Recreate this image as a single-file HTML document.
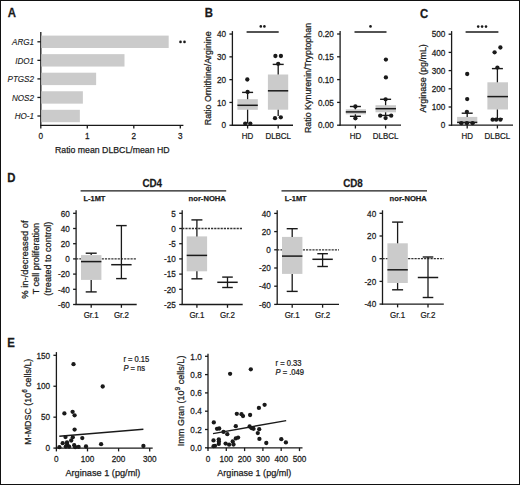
<!DOCTYPE html>
<html><head><meta charset="utf-8"><style>
html,body{margin:0;padding:0;background:#fff;}
body{width:520px;height:485px;overflow:hidden;}
svg{display:block;font-family:"Liberation Sans", sans-serif;}
text{fill:#1a1a1a;stroke:#1a1a1a;stroke-width:0.25px;}
text[font-style=italic]{stroke-width:0.12px;}
</style></head><body>
<svg width="520" height="485" viewBox="0 0 520 485">
<rect x="0" y="0" width="520" height="485" fill="#fff"/>
<text transform="translate(7.80 16.80) scale(0.950 1)" font-size="12" font-weight="bold">A</text>
<text transform="translate(204.80 16.60) scale(0.950 1)" font-size="12" font-weight="bold">B</text>
<text transform="translate(419.90 17.60) scale(0.950 1)" font-size="12" font-weight="bold">C</text>
<text transform="translate(7.30 181.90) scale(0.950 1)" font-size="12" font-weight="bold">D</text>
<text transform="translate(7.30 346.60) scale(0.950 1)" font-size="12" font-weight="bold">E</text>
<line x1="40.8" y1="32" x2="40.8" y2="126" stroke="#1a1a1a" stroke-width="1.3"/>
<line x1="40.2" y1="125.4" x2="183.4" y2="125.4" stroke="#1a1a1a" stroke-width="1.3"/>
<rect x="41.4" y="35.6" width="127.28" height="12.4" fill="#cbcbcb"/>
<line x1="37.4" y1="41.8" x2="40.8" y2="41.8" stroke="#1a1a1a" stroke-width="1.3"/>
<text transform="translate(34.00 45.00) scale(0.920 1)" font-size="8.8" font-style="italic" text-anchor="end">ARG1</text>
<rect x="41.4" y="54.15" width="83.1" height="12.4" fill="#cbcbcb"/>
<line x1="37.4" y1="60.35" x2="40.8" y2="60.35" stroke="#1a1a1a" stroke-width="1.3"/>
<text transform="translate(34.00 63.55) scale(0.920 1)" font-size="8.8" font-style="italic" text-anchor="end">IDO1</text>
<rect x="41.4" y="72.7" width="54.73" height="12.4" fill="#cbcbcb"/>
<line x1="37.4" y1="78.9" x2="40.8" y2="78.9" stroke="#1a1a1a" stroke-width="1.3"/>
<text transform="translate(34.00 82.10) scale(0.920 1)" font-size="8.8" font-style="italic" text-anchor="end">PTGS2</text>
<rect x="41.4" y="91.25" width="41.48" height="12.4" fill="#cbcbcb"/>
<line x1="37.4" y1="97.45" x2="40.8" y2="97.45" stroke="#1a1a1a" stroke-width="1.3"/>
<text transform="translate(34.00 100.65) scale(0.920 1)" font-size="8.8" font-style="italic" text-anchor="end">NOS2</text>
<rect x="41.4" y="109.8" width="38.46" height="12.4" fill="#cbcbcb"/>
<line x1="37.4" y1="116" x2="40.8" y2="116" stroke="#1a1a1a" stroke-width="1.3"/>
<text transform="translate(34.00 119.20) scale(0.920 1)" font-size="8.8" font-style="italic" text-anchor="end">HO-1</text>
<line x1="40.8" y1="125.4" x2="40.8" y2="128.6" stroke="#1a1a1a" stroke-width="1.3"/>
<text transform="translate(40.80 138.80) scale(0.890 1)" font-size="9.2" text-anchor="middle">0</text>
<line x1="87.3" y1="125.4" x2="87.3" y2="128.6" stroke="#1a1a1a" stroke-width="1.3"/>
<text transform="translate(87.30 138.80) scale(0.890 1)" font-size="9.2" text-anchor="middle">1</text>
<line x1="133.8" y1="125.4" x2="133.8" y2="128.6" stroke="#1a1a1a" stroke-width="1.3"/>
<text transform="translate(133.80 138.80) scale(0.890 1)" font-size="9.2" text-anchor="middle">2</text>
<line x1="180.3" y1="125.4" x2="180.3" y2="128.6" stroke="#1a1a1a" stroke-width="1.3"/>
<text transform="translate(180.30 138.80) scale(0.890 1)" font-size="9.2" text-anchor="middle">3</text>
<text transform="translate(55.00 152.60)" font-size="9.8" textLength="114.6" lengthAdjust="spacingAndGlyphs">Ratio mean DLBCL/mean HD</text>
<circle cx="180.5" cy="41.9" r="1.3" fill="#1a1a1a"/>
<circle cx="184.5" cy="41.9" r="1.3" fill="#1a1a1a"/>
<line x1="232.4" y1="31.1" x2="232.4" y2="125.85" stroke="#1a1a1a" stroke-width="1.3"/>
<line x1="229.4" y1="125.25" x2="232.4" y2="125.25" stroke="#1a1a1a" stroke-width="1.3"/>
<text transform="translate(226.10 128.45) scale(0.890 1)" font-size="9.2" text-anchor="end">0</text>
<line x1="229.4" y1="102.45" x2="232.4" y2="102.45" stroke="#1a1a1a" stroke-width="1.3"/>
<text transform="translate(226.10 105.65) scale(0.890 1)" font-size="9.2" text-anchor="end">10</text>
<line x1="229.4" y1="79.65" x2="232.4" y2="79.65" stroke="#1a1a1a" stroke-width="1.3"/>
<text transform="translate(226.10 82.85) scale(0.890 1)" font-size="9.2" text-anchor="end">20</text>
<line x1="229.4" y1="56.85" x2="232.4" y2="56.85" stroke="#1a1a1a" stroke-width="1.3"/>
<text transform="translate(226.10 60.05) scale(0.890 1)" font-size="9.2" text-anchor="end">30</text>
<line x1="229.4" y1="34.05" x2="232.4" y2="34.05" stroke="#1a1a1a" stroke-width="1.3"/>
<text transform="translate(226.10 37.25) scale(0.890 1)" font-size="9.2" text-anchor="end">40</text>
<line x1="231.8" y1="125.25" x2="293" y2="125.25" stroke="#1a1a1a" stroke-width="1.3"/>
<line x1="247.6" y1="125.25" x2="247.6" y2="128.55" stroke="#1a1a1a" stroke-width="1.3"/>
<text transform="translate(247.60 139.20) scale(0.810 1)" font-size="9.8" text-anchor="middle">HD</text>
<line x1="278.2" y1="125.25" x2="278.2" y2="128.55" stroke="#1a1a1a" stroke-width="1.3"/>
<text transform="translate(278.20 139.20) scale(0.810 1)" font-size="9.8" text-anchor="middle">DLBCL</text>
<rect x="237.4" y="99.2" width="20.4" height="10.6" fill="#cbcbcb"/>
<line x1="247.6" y1="92.4" x2="247.6" y2="99.2" stroke="#1a1a1a" stroke-width="1.3"/>
<line x1="242.1" y1="92.4" x2="253.1" y2="92.4" stroke="#1a1a1a" stroke-width="1.4"/>
<line x1="237.4" y1="105.3" x2="257.8" y2="105.3" stroke="#1a1a1a" stroke-width="1.5"/>
<circle cx="247.6" cy="92" r="2.15" fill="#1a1a1a"/>
<circle cx="247.3" cy="79.5" r="2.15" fill="#1a1a1a"/>
<circle cx="245.2" cy="123.6" r="2.15" fill="#1a1a1a"/>
<circle cx="250.3" cy="123.6" r="2.15" fill="#1a1a1a"/>
<line x1="247.6" y1="109.7" x2="247.6" y2="123.5" stroke="#1a1a1a" stroke-width="1.3"/>
<rect x="267.9" y="74.5" width="20.3" height="35.2" fill="#cbcbcb"/>
<line x1="278.2" y1="64.4" x2="278.2" y2="74.5" stroke="#1a1a1a" stroke-width="1.3"/>
<line x1="272.7" y1="64.4" x2="283.7" y2="64.4" stroke="#1a1a1a" stroke-width="1.4"/>
<line x1="267.9" y1="90.8" x2="288.2" y2="90.8" stroke="#1a1a1a" stroke-width="1.5"/>
<circle cx="278.2" cy="63.8" r="2.15" fill="#1a1a1a"/>
<circle cx="275.4" cy="56" r="2.15" fill="#1a1a1a"/>
<circle cx="280.9" cy="56" r="2.15" fill="#1a1a1a"/>
<circle cx="275" cy="118.2" r="2.15" fill="#1a1a1a"/>
<circle cx="280.8" cy="117.3" r="2.15" fill="#1a1a1a"/>
<line x1="278.2" y1="109.7" x2="278.2" y2="116" stroke="#1a1a1a" stroke-width="1.3"/>
<line x1="246.6" y1="32" x2="278.7" y2="32" stroke="#1a1a1a" stroke-width="1.5"/>
<circle cx="260.8" cy="26.4" r="1.3" fill="#1a1a1a"/>
<circle cx="264.4" cy="26.4" r="1.3" fill="#1a1a1a"/>
<text transform="translate(211.00 78.30) rotate(-90)" font-size="9.4" text-anchor="middle" textLength="93.8" lengthAdjust="spacingAndGlyphs">Ratio Ornithine/Arginine</text>
<line x1="340.1" y1="31.1" x2="340.1" y2="125.8" stroke="#1a1a1a" stroke-width="1.3"/>
<line x1="337.1" y1="125.2" x2="340.1" y2="125.2" stroke="#1a1a1a" stroke-width="1.3"/>
<text transform="translate(333.80 128.40) scale(0.890 1)" font-size="9.2" text-anchor="end">0.00</text>
<line x1="337.1" y1="102.4" x2="340.1" y2="102.4" stroke="#1a1a1a" stroke-width="1.3"/>
<text transform="translate(333.80 105.60) scale(0.890 1)" font-size="9.2" text-anchor="end">0.05</text>
<line x1="337.1" y1="79.6" x2="340.1" y2="79.6" stroke="#1a1a1a" stroke-width="1.3"/>
<text transform="translate(333.80 82.80) scale(0.890 1)" font-size="9.2" text-anchor="end">0.10</text>
<line x1="337.1" y1="56.8" x2="340.1" y2="56.8" stroke="#1a1a1a" stroke-width="1.3"/>
<text transform="translate(333.80 60.00) scale(0.890 1)" font-size="9.2" text-anchor="end">0.15</text>
<line x1="337.1" y1="34" x2="340.1" y2="34" stroke="#1a1a1a" stroke-width="1.3"/>
<text transform="translate(333.80 37.20) scale(0.890 1)" font-size="9.2" text-anchor="end">0.20</text>
<line x1="339.5" y1="125.2" x2="401" y2="125.2" stroke="#1a1a1a" stroke-width="1.3"/>
<line x1="355.4" y1="125.2" x2="355.4" y2="128.5" stroke="#1a1a1a" stroke-width="1.3"/>
<text transform="translate(355.40 139.20) scale(0.810 1)" font-size="9.8" text-anchor="middle">HD</text>
<line x1="385.6" y1="125.2" x2="385.6" y2="128.5" stroke="#1a1a1a" stroke-width="1.3"/>
<text transform="translate(385.60 139.20) scale(0.810 1)" font-size="9.8" text-anchor="middle">DLBCL</text>
<rect x="345.8" y="109.3" width="20.2" height="5" fill="#cbcbcb"/>
<line x1="355.4" y1="106.5" x2="355.4" y2="109.3" stroke="#1a1a1a" stroke-width="1.3"/>
<line x1="349.9" y1="106.5" x2="360.9" y2="106.5" stroke="#1a1a1a" stroke-width="1.4"/>
<line x1="355.4" y1="114.3" x2="355.4" y2="116.3" stroke="#1a1a1a" stroke-width="1.3"/>
<line x1="349.9" y1="116.3" x2="360.9" y2="116.3" stroke="#1a1a1a" stroke-width="1.4"/>
<line x1="345.8" y1="111.9" x2="366" y2="111.9" stroke="#1a1a1a" stroke-width="1.5"/>
<circle cx="355.4" cy="106.5" r="2.15" fill="#1a1a1a"/>
<circle cx="355.4" cy="118.3" r="2.15" fill="#1a1a1a"/>
<rect x="375.5" y="105.2" width="20.5" height="7.1" fill="#cbcbcb"/>
<line x1="385.6" y1="99.3" x2="385.6" y2="105.2" stroke="#1a1a1a" stroke-width="1.3"/>
<line x1="380.1" y1="99.3" x2="391.1" y2="99.3" stroke="#1a1a1a" stroke-width="1.4"/>
<line x1="385.6" y1="112.3" x2="385.6" y2="115.4" stroke="#1a1a1a" stroke-width="1.3"/>
<line x1="380.1" y1="115.4" x2="391.1" y2="115.4" stroke="#1a1a1a" stroke-width="1.4"/>
<line x1="375.5" y1="108.7" x2="396" y2="108.7" stroke="#1a1a1a" stroke-width="1.5"/>
<circle cx="385.6" cy="99.3" r="2.15" fill="#1a1a1a"/>
<circle cx="380.2" cy="115.7" r="2.15" fill="#1a1a1a"/>
<circle cx="391.2" cy="115.7" r="2.15" fill="#1a1a1a"/>
<circle cx="385.6" cy="118.1" r="2.15" fill="#1a1a1a"/>
<circle cx="385.9" cy="59.6" r="2.15" fill="#1a1a1a"/>
<circle cx="385.9" cy="77.4" r="2.15" fill="#1a1a1a"/>
<line x1="354.5" y1="32" x2="386.5" y2="32" stroke="#1a1a1a" stroke-width="1.5"/>
<circle cx="370.5" cy="26.4" r="1.3" fill="#1a1a1a"/>
<text transform="translate(311.20 78.00) rotate(-90)" font-size="8.9" text-anchor="middle" textLength="110.2" lengthAdjust="spacingAndGlyphs">Ratio Kynurenin/Tryptophan</text>
<line x1="451.6" y1="31.1" x2="451.6" y2="125.8" stroke="#1a1a1a" stroke-width="1.3"/>
<line x1="448.6" y1="125.2" x2="451.6" y2="125.2" stroke="#1a1a1a" stroke-width="1.3"/>
<text transform="translate(445.30 128.40) scale(0.890 1)" font-size="9.2" text-anchor="end">0</text>
<line x1="448.6" y1="107" x2="451.6" y2="107" stroke="#1a1a1a" stroke-width="1.3"/>
<text transform="translate(445.30 110.20) scale(0.890 1)" font-size="9.2" text-anchor="end">100</text>
<line x1="448.6" y1="88.8" x2="451.6" y2="88.8" stroke="#1a1a1a" stroke-width="1.3"/>
<text transform="translate(445.30 92.00) scale(0.890 1)" font-size="9.2" text-anchor="end">200</text>
<line x1="448.6" y1="70.6" x2="451.6" y2="70.6" stroke="#1a1a1a" stroke-width="1.3"/>
<text transform="translate(445.30 73.80) scale(0.890 1)" font-size="9.2" text-anchor="end">300</text>
<line x1="448.6" y1="52.4" x2="451.6" y2="52.4" stroke="#1a1a1a" stroke-width="1.3"/>
<text transform="translate(445.30 55.60) scale(0.890 1)" font-size="9.2" text-anchor="end">400</text>
<line x1="448.6" y1="34.2" x2="451.6" y2="34.2" stroke="#1a1a1a" stroke-width="1.3"/>
<text transform="translate(445.30 37.40) scale(0.890 1)" font-size="9.2" text-anchor="end">500</text>
<line x1="451" y1="125.2" x2="513" y2="125.2" stroke="#1a1a1a" stroke-width="1.3"/>
<line x1="467.2" y1="125.2" x2="467.2" y2="128.5" stroke="#1a1a1a" stroke-width="1.3"/>
<text transform="translate(467.20 139.20) scale(0.810 1)" font-size="9.8" text-anchor="middle">HD</text>
<line x1="497.4" y1="125.2" x2="497.4" y2="128.5" stroke="#1a1a1a" stroke-width="1.3"/>
<text transform="translate(497.40 139.20) scale(0.810 1)" font-size="9.8" text-anchor="middle">DLBCL</text>
<rect x="457.1" y="116.9" width="20.2" height="5.5" fill="#cbcbcb"/>
<line x1="467.2" y1="113.2" x2="467.2" y2="116.9" stroke="#1a1a1a" stroke-width="1.3"/>
<line x1="461.7" y1="113.2" x2="472.7" y2="113.2" stroke="#1a1a1a" stroke-width="1.4"/>
<line x1="457.1" y1="122.4" x2="477.3" y2="122.4" stroke="#1a1a1a" stroke-width="1.5"/>
<circle cx="466.9" cy="111.8" r="2.15" fill="#1a1a1a"/>
<circle cx="467.2" cy="74" r="2.15" fill="#1a1a1a"/>
<circle cx="467.2" cy="99.1" r="2.15" fill="#1a1a1a"/>
<circle cx="461.3" cy="123.2" r="2.15" fill="#1a1a1a"/>
<circle cx="466.9" cy="123.2" r="2.15" fill="#1a1a1a"/>
<circle cx="472.6" cy="123.2" r="2.15" fill="#1a1a1a"/>
<rect x="487.4" y="82.3" width="20.6" height="27.2" fill="#cbcbcb"/>
<line x1="497.4" y1="68.6" x2="497.4" y2="82.3" stroke="#1a1a1a" stroke-width="1.3"/>
<line x1="491.9" y1="68.6" x2="502.9" y2="68.6" stroke="#1a1a1a" stroke-width="1.4"/>
<line x1="497.4" y1="109.5" x2="497.4" y2="118.8" stroke="#1a1a1a" stroke-width="1.3"/>
<line x1="491.9" y1="118.8" x2="502.9" y2="118.8" stroke="#1a1a1a" stroke-width="1.4"/>
<line x1="487.4" y1="96.6" x2="508" y2="96.6" stroke="#1a1a1a" stroke-width="1.5"/>
<circle cx="497.4" cy="67.6" r="2.15" fill="#1a1a1a"/>
<circle cx="494.6" cy="52.3" r="2.15" fill="#1a1a1a"/>
<circle cx="500.4" cy="47.5" r="2.15" fill="#1a1a1a"/>
<circle cx="492.6" cy="119.7" r="2.15" fill="#1a1a1a"/>
<circle cx="496.2" cy="119.7" r="2.15" fill="#1a1a1a"/>
<circle cx="500.4" cy="119.7" r="2.15" fill="#1a1a1a"/>
<line x1="465.6" y1="32.1" x2="498.4" y2="32.1" stroke="#1a1a1a" stroke-width="1.5"/>
<circle cx="478.2" cy="26.6" r="1.3" fill="#1a1a1a"/>
<circle cx="482.1" cy="26.6" r="1.3" fill="#1a1a1a"/>
<circle cx="486" cy="26.6" r="1.3" fill="#1a1a1a"/>
<text transform="translate(426.20 78.40) rotate(-90)" font-size="9.2" text-anchor="middle" textLength="68.4" lengthAdjust="spacingAndGlyphs">Arginase (pg/mL)</text>
<line x1="80.6" y1="190.8" x2="226.2" y2="190.8" stroke="#1a1a1a" stroke-width="1.3"/>
<line x1="281.5" y1="190.8" x2="427" y2="190.8" stroke="#1a1a1a" stroke-width="1.3"/>
<text transform="translate(152.20 187.20) scale(0.870 1)" font-size="11.3" font-weight="bold" text-anchor="middle">CD4</text>
<text transform="translate(353.00 187.20) scale(0.870 1)" font-size="11.3" font-weight="bold" text-anchor="middle">CD8</text>
<text transform="translate(83.60 200.50)" font-size="7.9" font-weight="bold" textLength="21.8" lengthAdjust="spacingAndGlyphs">L-1MT</text>
<text transform="translate(225.80 200.50)" font-size="7.9" font-weight="bold" text-anchor="end" textLength="37.2" lengthAdjust="spacingAndGlyphs">nor-NOHA</text>
<text transform="translate(284.80 200.50)" font-size="7.9" font-weight="bold" textLength="21.8" lengthAdjust="spacingAndGlyphs">L-1MT</text>
<text transform="translate(426.80 200.50)" font-size="7.9" font-weight="bold" text-anchor="end" textLength="37.2" lengthAdjust="spacingAndGlyphs">nor-NOHA</text>
<line x1="76.1" y1="210.3" x2="76.1" y2="305.1" stroke="#1a1a1a" stroke-width="1.3"/>
<line x1="73.1" y1="213.3" x2="76.1" y2="213.3" stroke="#1a1a1a" stroke-width="1.3"/>
<text transform="translate(69.80 216.50) scale(0.890 1)" font-size="9.2" text-anchor="end">60</text>
<line x1="73.1" y1="228.5" x2="76.1" y2="228.5" stroke="#1a1a1a" stroke-width="1.3"/>
<text transform="translate(69.80 231.70) scale(0.890 1)" font-size="9.2" text-anchor="end">40</text>
<line x1="73.1" y1="243.7" x2="76.1" y2="243.7" stroke="#1a1a1a" stroke-width="1.3"/>
<text transform="translate(69.80 246.90) scale(0.890 1)" font-size="9.2" text-anchor="end">20</text>
<line x1="73.1" y1="258.9" x2="76.1" y2="258.9" stroke="#1a1a1a" stroke-width="1.3"/>
<text transform="translate(69.80 262.10) scale(0.890 1)" font-size="9.2" text-anchor="end">0</text>
<line x1="73.1" y1="274.1" x2="76.1" y2="274.1" stroke="#1a1a1a" stroke-width="1.3"/>
<text transform="translate(69.80 277.30) scale(0.890 1)" font-size="9.2" text-anchor="end">-20</text>
<line x1="73.1" y1="289.3" x2="76.1" y2="289.3" stroke="#1a1a1a" stroke-width="1.3"/>
<text transform="translate(69.80 292.50) scale(0.890 1)" font-size="9.2" text-anchor="end">-40</text>
<line x1="73.1" y1="304.5" x2="76.1" y2="304.5" stroke="#1a1a1a" stroke-width="1.3"/>
<text transform="translate(69.80 307.70) scale(0.890 1)" font-size="9.2" text-anchor="end">-60</text>
<line x1="75.5" y1="304.5" x2="136.7" y2="304.5" stroke="#1a1a1a" stroke-width="1.3"/>
<line x1="91.2" y1="304.5" x2="91.2" y2="307.8" stroke="#1a1a1a" stroke-width="1.3"/>
<text transform="translate(91.20 318.40) scale(0.810 1)" font-size="9.8" text-anchor="middle">Gr.1</text>
<line x1="121.4" y1="304.5" x2="121.4" y2="307.8" stroke="#1a1a1a" stroke-width="1.3"/>
<text transform="translate(121.40 318.40) scale(0.810 1)" font-size="9.8" text-anchor="middle">Gr.2</text>
<line x1="76.1" y1="258.9" x2="136.7" y2="258.9" stroke="#333" stroke-width="1.3" stroke-dasharray="2.2 1.0"/>
<rect x="81" y="255.1" width="20.4" height="24.8" fill="#cbcbcb"/>
<line x1="91.2" y1="253.2" x2="91.2" y2="255.1" stroke="#1a1a1a" stroke-width="1.3"/>
<line x1="85.7" y1="253.2" x2="96.7" y2="253.2" stroke="#1a1a1a" stroke-width="1.4"/>
<line x1="91.2" y1="279.9" x2="91.2" y2="291.9" stroke="#1a1a1a" stroke-width="1.3"/>
<line x1="85.7" y1="291.9" x2="96.7" y2="291.9" stroke="#1a1a1a" stroke-width="1.4"/>
<line x1="81" y1="261.6" x2="101.4" y2="261.6" stroke="#1a1a1a" stroke-width="1.5"/>
<line x1="121.4" y1="225.6" x2="121.4" y2="278.6" stroke="#1a1a1a" stroke-width="1.3"/>
<line x1="116.1" y1="225.6" x2="126.7" y2="225.6" stroke="#1a1a1a" stroke-width="1.4"/>
<line x1="116.1" y1="278.6" x2="126.7" y2="278.6" stroke="#1a1a1a" stroke-width="1.4"/>
<line x1="111.2" y1="264.7" x2="131.6" y2="264.7" stroke="#1a1a1a" stroke-width="1.5"/>
<line x1="182.2" y1="210.3" x2="182.2" y2="305.1" stroke="#1a1a1a" stroke-width="1.3"/>
<line x1="179.2" y1="213.3" x2="182.2" y2="213.3" stroke="#1a1a1a" stroke-width="1.3"/>
<text transform="translate(175.90 216.50) scale(0.890 1)" font-size="9.2" text-anchor="end">5</text>
<line x1="179.2" y1="228.5" x2="182.2" y2="228.5" stroke="#1a1a1a" stroke-width="1.3"/>
<text transform="translate(175.90 231.70) scale(0.890 1)" font-size="9.2" text-anchor="end">0</text>
<line x1="179.2" y1="243.7" x2="182.2" y2="243.7" stroke="#1a1a1a" stroke-width="1.3"/>
<text transform="translate(175.90 246.90) scale(0.890 1)" font-size="9.2" text-anchor="end">-5</text>
<line x1="179.2" y1="258.9" x2="182.2" y2="258.9" stroke="#1a1a1a" stroke-width="1.3"/>
<text transform="translate(175.90 262.10) scale(0.890 1)" font-size="9.2" text-anchor="end">-10</text>
<line x1="179.2" y1="274.1" x2="182.2" y2="274.1" stroke="#1a1a1a" stroke-width="1.3"/>
<text transform="translate(175.90 277.30) scale(0.890 1)" font-size="9.2" text-anchor="end">-15</text>
<line x1="179.2" y1="289.3" x2="182.2" y2="289.3" stroke="#1a1a1a" stroke-width="1.3"/>
<text transform="translate(175.90 292.50) scale(0.890 1)" font-size="9.2" text-anchor="end">-20</text>
<line x1="179.2" y1="304.5" x2="182.2" y2="304.5" stroke="#1a1a1a" stroke-width="1.3"/>
<text transform="translate(175.90 307.70) scale(0.890 1)" font-size="9.2" text-anchor="end">-25</text>
<line x1="181.6" y1="304.5" x2="242.7" y2="304.5" stroke="#1a1a1a" stroke-width="1.3"/>
<line x1="196.9" y1="304.5" x2="196.9" y2="307.8" stroke="#1a1a1a" stroke-width="1.3"/>
<text transform="translate(196.90 318.40) scale(0.810 1)" font-size="9.8" text-anchor="middle">Gr.1</text>
<line x1="227.5" y1="304.5" x2="227.5" y2="307.8" stroke="#1a1a1a" stroke-width="1.3"/>
<text transform="translate(227.50 318.40) scale(0.810 1)" font-size="9.8" text-anchor="middle">Gr.2</text>
<line x1="182.2" y1="228.5" x2="242.7" y2="228.5" stroke="#333" stroke-width="1.3" stroke-dasharray="2.2 1.0"/>
<rect x="186.7" y="236.4" width="20.4" height="34.9" fill="#cbcbcb"/>
<line x1="196.9" y1="219.9" x2="196.9" y2="236.4" stroke="#1a1a1a" stroke-width="1.3"/>
<line x1="191.4" y1="219.9" x2="202.4" y2="219.9" stroke="#1a1a1a" stroke-width="1.4"/>
<line x1="196.9" y1="271.3" x2="196.9" y2="278.8" stroke="#1a1a1a" stroke-width="1.3"/>
<line x1="191.4" y1="278.8" x2="202.4" y2="278.8" stroke="#1a1a1a" stroke-width="1.4"/>
<line x1="186.7" y1="255.4" x2="207.1" y2="255.4" stroke="#1a1a1a" stroke-width="1.5"/>
<line x1="227.5" y1="277.1" x2="227.5" y2="287.5" stroke="#1a1a1a" stroke-width="1.3"/>
<line x1="222.2" y1="277.1" x2="232.8" y2="277.1" stroke="#1a1a1a" stroke-width="1.4"/>
<line x1="222.2" y1="287.5" x2="232.8" y2="287.5" stroke="#1a1a1a" stroke-width="1.4"/>
<line x1="217.3" y1="282.3" x2="237.7" y2="282.3" stroke="#1a1a1a" stroke-width="1.5"/>
<line x1="277.2" y1="210.3" x2="277.2" y2="305" stroke="#1a1a1a" stroke-width="1.3"/>
<line x1="274.2" y1="213.4" x2="277.2" y2="213.4" stroke="#1a1a1a" stroke-width="1.3"/>
<text transform="translate(270.90 216.60) scale(0.890 1)" font-size="9.2" text-anchor="end">40</text>
<line x1="274.2" y1="231.6" x2="277.2" y2="231.6" stroke="#1a1a1a" stroke-width="1.3"/>
<text transform="translate(270.90 234.80) scale(0.890 1)" font-size="9.2" text-anchor="end">20</text>
<line x1="274.2" y1="249.8" x2="277.2" y2="249.8" stroke="#1a1a1a" stroke-width="1.3"/>
<text transform="translate(270.90 253.00) scale(0.890 1)" font-size="9.2" text-anchor="end">0</text>
<line x1="274.2" y1="268" x2="277.2" y2="268" stroke="#1a1a1a" stroke-width="1.3"/>
<text transform="translate(270.90 271.20) scale(0.890 1)" font-size="9.2" text-anchor="end">-20</text>
<line x1="274.2" y1="286.2" x2="277.2" y2="286.2" stroke="#1a1a1a" stroke-width="1.3"/>
<text transform="translate(270.90 289.40) scale(0.890 1)" font-size="9.2" text-anchor="end">-40</text>
<line x1="274.2" y1="304.4" x2="277.2" y2="304.4" stroke="#1a1a1a" stroke-width="1.3"/>
<text transform="translate(270.90 307.60) scale(0.890 1)" font-size="9.2" text-anchor="end">-60</text>
<line x1="276.6" y1="304.4" x2="339" y2="304.4" stroke="#1a1a1a" stroke-width="1.3"/>
<line x1="292.2" y1="304.4" x2="292.2" y2="307.7" stroke="#1a1a1a" stroke-width="1.3"/>
<text transform="translate(292.20 318.40) scale(0.810 1)" font-size="9.8" text-anchor="middle">Gr.1</text>
<line x1="322.6" y1="304.4" x2="322.6" y2="307.7" stroke="#1a1a1a" stroke-width="1.3"/>
<text transform="translate(322.60 318.40) scale(0.810 1)" font-size="9.8" text-anchor="middle">Gr.2</text>
<line x1="277.2" y1="249.8" x2="339" y2="249.8" stroke="#333" stroke-width="1.3" stroke-dasharray="2.2 1.0"/>
<rect x="282" y="236.9" width="20.4" height="37" fill="#cbcbcb"/>
<line x1="292.2" y1="228.7" x2="292.2" y2="236.9" stroke="#1a1a1a" stroke-width="1.3"/>
<line x1="286.7" y1="228.7" x2="297.7" y2="228.7" stroke="#1a1a1a" stroke-width="1.4"/>
<line x1="292.2" y1="273.9" x2="292.2" y2="291.4" stroke="#1a1a1a" stroke-width="1.3"/>
<line x1="286.7" y1="291.4" x2="297.7" y2="291.4" stroke="#1a1a1a" stroke-width="1.4"/>
<line x1="282" y1="256.1" x2="302.4" y2="256.1" stroke="#1a1a1a" stroke-width="1.5"/>
<line x1="322.6" y1="253.7" x2="322.6" y2="266.5" stroke="#1a1a1a" stroke-width="1.3"/>
<line x1="317.3" y1="253.7" x2="327.9" y2="253.7" stroke="#1a1a1a" stroke-width="1.4"/>
<line x1="317.3" y1="266.5" x2="327.9" y2="266.5" stroke="#1a1a1a" stroke-width="1.4"/>
<line x1="312.4" y1="259.3" x2="332.8" y2="259.3" stroke="#1a1a1a" stroke-width="1.5"/>
<line x1="382.5" y1="210.3" x2="382.5" y2="304.7" stroke="#1a1a1a" stroke-width="1.3"/>
<line x1="379.5" y1="213.3" x2="382.5" y2="213.3" stroke="#1a1a1a" stroke-width="1.3"/>
<text transform="translate(376.20 216.50) scale(0.890 1)" font-size="9.2" text-anchor="end">40</text>
<line x1="379.5" y1="236" x2="382.5" y2="236" stroke="#1a1a1a" stroke-width="1.3"/>
<text transform="translate(376.20 239.20) scale(0.890 1)" font-size="9.2" text-anchor="end">20</text>
<line x1="379.5" y1="258.7" x2="382.5" y2="258.7" stroke="#1a1a1a" stroke-width="1.3"/>
<text transform="translate(376.20 261.90) scale(0.890 1)" font-size="9.2" text-anchor="end">0</text>
<line x1="379.5" y1="281.4" x2="382.5" y2="281.4" stroke="#1a1a1a" stroke-width="1.3"/>
<text transform="translate(376.20 284.60) scale(0.890 1)" font-size="9.2" text-anchor="end">-20</text>
<line x1="379.5" y1="304.1" x2="382.5" y2="304.1" stroke="#1a1a1a" stroke-width="1.3"/>
<text transform="translate(376.20 307.30) scale(0.890 1)" font-size="9.2" text-anchor="end">-40</text>
<line x1="381.9" y1="304.1" x2="443.8" y2="304.1" stroke="#1a1a1a" stroke-width="1.3"/>
<line x1="397.6" y1="304.1" x2="397.6" y2="307.4" stroke="#1a1a1a" stroke-width="1.3"/>
<text transform="translate(397.60 318.40) scale(0.810 1)" font-size="9.8" text-anchor="middle">Gr.1</text>
<line x1="428" y1="304.1" x2="428" y2="307.4" stroke="#1a1a1a" stroke-width="1.3"/>
<text transform="translate(428.00 318.40) scale(0.810 1)" font-size="9.8" text-anchor="middle">Gr.2</text>
<line x1="382.5" y1="258.7" x2="443.8" y2="258.7" stroke="#333" stroke-width="1.3" stroke-dasharray="2.2 1.0"/>
<rect x="387.4" y="243.3" width="20.4" height="39.7" fill="#cbcbcb"/>
<line x1="397.6" y1="222.1" x2="397.6" y2="243.3" stroke="#1a1a1a" stroke-width="1.3"/>
<line x1="392.1" y1="222.1" x2="403.1" y2="222.1" stroke="#1a1a1a" stroke-width="1.4"/>
<line x1="397.6" y1="283" x2="397.6" y2="289.8" stroke="#1a1a1a" stroke-width="1.3"/>
<line x1="392.1" y1="289.8" x2="403.1" y2="289.8" stroke="#1a1a1a" stroke-width="1.4"/>
<line x1="387.4" y1="269.8" x2="407.8" y2="269.8" stroke="#1a1a1a" stroke-width="1.5"/>
<line x1="428" y1="257" x2="428" y2="297.5" stroke="#1a1a1a" stroke-width="1.3"/>
<line x1="422.7" y1="257" x2="433.3" y2="257" stroke="#1a1a1a" stroke-width="1.4"/>
<line x1="422.7" y1="297.5" x2="433.3" y2="297.5" stroke="#1a1a1a" stroke-width="1.4"/>
<line x1="417.8" y1="277.5" x2="438.2" y2="277.5" stroke="#1a1a1a" stroke-width="1.5"/>
<text transform="translate(27.60 259.60) rotate(-90)" font-size="9.5" text-anchor="middle" textLength="78.3" lengthAdjust="spacingAndGlyphs">% in-/decreased of</text>
<text transform="translate(39.20 258.60) rotate(-90)" font-size="9.5" text-anchor="middle" textLength="71.5" lengthAdjust="spacingAndGlyphs">T cell proliferation</text>
<text transform="translate(51.20 258.70) rotate(-90)" font-size="9.5" text-anchor="middle" textLength="74" lengthAdjust="spacingAndGlyphs">(treated to control)</text>
<line x1="56.4" y1="352.1" x2="56.4" y2="448.7" stroke="#1a1a1a" stroke-width="1.3"/>
<line x1="53.4" y1="448.1" x2="56.4" y2="448.1" stroke="#1a1a1a" stroke-width="1.3"/>
<text transform="translate(50.10 451.30) scale(0.890 1)" font-size="9.2" text-anchor="end">0</text>
<line x1="53.4" y1="417.17" x2="56.4" y2="417.17" stroke="#1a1a1a" stroke-width="1.3"/>
<text transform="translate(50.10 420.37) scale(0.890 1)" font-size="9.2" text-anchor="end">50</text>
<line x1="53.4" y1="386.24" x2="56.4" y2="386.24" stroke="#1a1a1a" stroke-width="1.3"/>
<text transform="translate(50.10 389.44) scale(0.890 1)" font-size="9.2" text-anchor="end">100</text>
<line x1="53.4" y1="355.31" x2="56.4" y2="355.31" stroke="#1a1a1a" stroke-width="1.3"/>
<text transform="translate(50.10 358.51) scale(0.890 1)" font-size="9.2" text-anchor="end">150</text>
<line x1="55.8" y1="448.1" x2="152.7" y2="448.1" stroke="#1a1a1a" stroke-width="1.3"/>
<line x1="56.4" y1="448.1" x2="56.4" y2="451.4" stroke="#1a1a1a" stroke-width="1.3"/>
<text transform="translate(56.40 461.80) scale(0.890 1)" font-size="9.2" text-anchor="middle">0</text>
<line x1="87.5" y1="448.1" x2="87.5" y2="451.4" stroke="#1a1a1a" stroke-width="1.3"/>
<text transform="translate(87.50 461.80) scale(0.890 1)" font-size="9.2" text-anchor="middle">100</text>
<line x1="118.6" y1="448.1" x2="118.6" y2="451.4" stroke="#1a1a1a" stroke-width="1.3"/>
<text transform="translate(118.60 461.80) scale(0.890 1)" font-size="9.2" text-anchor="middle">200</text>
<line x1="149.7" y1="448.1" x2="149.7" y2="451.4" stroke="#1a1a1a" stroke-width="1.3"/>
<text transform="translate(149.70 461.80) scale(0.890 1)" font-size="9.2" text-anchor="middle">300</text>
<circle cx="73.5" cy="364.2" r="2.15" fill="#1a1a1a"/>
<circle cx="102.7" cy="386.5" r="2.15" fill="#1a1a1a"/>
<circle cx="64.4" cy="413.4" r="2.15" fill="#1a1a1a"/>
<circle cx="72.6" cy="411.8" r="2.15" fill="#1a1a1a"/>
<circle cx="74.6" cy="415.3" r="2.15" fill="#1a1a1a"/>
<circle cx="74.6" cy="429.6" r="2.15" fill="#1a1a1a"/>
<circle cx="65.5" cy="437.1" r="2.15" fill="#1a1a1a"/>
<circle cx="72.8" cy="437.3" r="2.15" fill="#1a1a1a"/>
<circle cx="82.3" cy="438.1" r="2.15" fill="#1a1a1a"/>
<circle cx="71.2" cy="440.5" r="2.15" fill="#1a1a1a"/>
<circle cx="62.7" cy="443.2" r="2.15" fill="#1a1a1a"/>
<circle cx="67" cy="442.4" r="2.15" fill="#1a1a1a"/>
<circle cx="67.2" cy="444.5" r="2.15" fill="#1a1a1a"/>
<circle cx="101.1" cy="444.2" r="2.15" fill="#1a1a1a"/>
<circle cx="59.4" cy="447.2" r="2.15" fill="#1a1a1a"/>
<circle cx="65.8" cy="446.6" r="2.15" fill="#1a1a1a"/>
<circle cx="69.1" cy="446.6" r="2.15" fill="#1a1a1a"/>
<circle cx="74.2" cy="445.2" r="2.15" fill="#1a1a1a"/>
<circle cx="75.2" cy="447.2" r="2.15" fill="#1a1a1a"/>
<circle cx="78.6" cy="446.9" r="2.15" fill="#1a1a1a"/>
<circle cx="86" cy="446.5" r="2.15" fill="#1a1a1a"/>
<circle cx="143.4" cy="446" r="2.15" fill="#1a1a1a"/>
<line x1="59.3" y1="436.2" x2="143.4" y2="429.2" stroke="#1a1a1a" stroke-width="1.4"/>
<text transform="translate(123.40 362.00) scale(0.880 1)" font-size="8.6">r = 0.15</text>
<text transform="translate(123.40 370.80) scale(0.880 1)" font-size="8.6"><tspan font-style="italic">P</tspan> = ns</text>
<text transform="translate(102.90 475.50)" font-size="9.5" text-anchor="middle" textLength="75" lengthAdjust="spacingAndGlyphs">Arginase 1 (pg/ml)</text>
<text transform="translate(30.90 401.70) rotate(-90) scale(0.936 1)" font-size="9.5" text-anchor="middle">M-MDSC (10<tspan font-size="6.8" dy="-3.8">6</tspan><tspan dy="3.8"> cells/L)</tspan></text>
<line x1="208" y1="353.7" x2="208" y2="448.4" stroke="#1a1a1a" stroke-width="1.3"/>
<line x1="205" y1="447.8" x2="208" y2="447.8" stroke="#1a1a1a" stroke-width="1.3"/>
<text transform="translate(201.70 451.00) scale(0.890 1)" font-size="9.2" text-anchor="end">0.0</text>
<line x1="205" y1="429.5" x2="208" y2="429.5" stroke="#1a1a1a" stroke-width="1.3"/>
<text transform="translate(201.70 432.70) scale(0.890 1)" font-size="9.2" text-anchor="end">0.2</text>
<line x1="205" y1="411.2" x2="208" y2="411.2" stroke="#1a1a1a" stroke-width="1.3"/>
<text transform="translate(201.70 414.40) scale(0.890 1)" font-size="9.2" text-anchor="end">0.4</text>
<line x1="205" y1="392.9" x2="208" y2="392.9" stroke="#1a1a1a" stroke-width="1.3"/>
<text transform="translate(201.70 396.10) scale(0.890 1)" font-size="9.2" text-anchor="end">0.6</text>
<line x1="205" y1="374.6" x2="208" y2="374.6" stroke="#1a1a1a" stroke-width="1.3"/>
<text transform="translate(201.70 377.80) scale(0.890 1)" font-size="9.2" text-anchor="end">0.8</text>
<line x1="205" y1="356.3" x2="208" y2="356.3" stroke="#1a1a1a" stroke-width="1.3"/>
<text transform="translate(201.70 359.50) scale(0.890 1)" font-size="9.2" text-anchor="end">1.0</text>
<line x1="207.4" y1="447.8" x2="302.5" y2="447.8" stroke="#1a1a1a" stroke-width="1.3"/>
<line x1="208" y1="447.8" x2="208" y2="451.1" stroke="#1a1a1a" stroke-width="1.3"/>
<text transform="translate(208.00 461.80) scale(0.890 1)" font-size="9.2" text-anchor="middle">0</text>
<line x1="226.3" y1="447.8" x2="226.3" y2="451.1" stroke="#1a1a1a" stroke-width="1.3"/>
<text transform="translate(226.30 461.80) scale(0.890 1)" font-size="9.2" text-anchor="middle">100</text>
<line x1="244.6" y1="447.8" x2="244.6" y2="451.1" stroke="#1a1a1a" stroke-width="1.3"/>
<text transform="translate(244.60 461.80) scale(0.890 1)" font-size="9.2" text-anchor="middle">200</text>
<line x1="262.9" y1="447.8" x2="262.9" y2="451.1" stroke="#1a1a1a" stroke-width="1.3"/>
<text transform="translate(262.90 461.80) scale(0.890 1)" font-size="9.2" text-anchor="middle">300</text>
<line x1="281.2" y1="447.8" x2="281.2" y2="451.1" stroke="#1a1a1a" stroke-width="1.3"/>
<text transform="translate(281.20 461.80) scale(0.890 1)" font-size="9.2" text-anchor="middle">400</text>
<line x1="299.5" y1="447.8" x2="299.5" y2="451.1" stroke="#1a1a1a" stroke-width="1.3"/>
<text transform="translate(299.50 461.80) scale(0.890 1)" font-size="9.2" text-anchor="middle">500</text>
<circle cx="230.1" cy="373.8" r="2.15" fill="#1a1a1a"/>
<circle cx="250.8" cy="369.3" r="2.15" fill="#1a1a1a"/>
<circle cx="264.6" cy="404.8" r="2.15" fill="#1a1a1a"/>
<circle cx="258.9" cy="407.9" r="2.15" fill="#1a1a1a"/>
<circle cx="236.8" cy="413.8" r="2.15" fill="#1a1a1a"/>
<circle cx="241.5" cy="414.2" r="2.15" fill="#1a1a1a"/>
<circle cx="243" cy="416.1" r="2.15" fill="#1a1a1a"/>
<circle cx="250.1" cy="415" r="2.15" fill="#1a1a1a"/>
<circle cx="213.8" cy="422.4" r="2.15" fill="#1a1a1a"/>
<circle cx="217" cy="428.8" r="2.15" fill="#1a1a1a"/>
<circle cx="219.2" cy="428.5" r="2.15" fill="#1a1a1a"/>
<circle cx="235.8" cy="426.2" r="2.15" fill="#1a1a1a"/>
<circle cx="249.6" cy="426.5" r="2.15" fill="#1a1a1a"/>
<circle cx="251.5" cy="428.1" r="2.15" fill="#1a1a1a"/>
<circle cx="253.5" cy="428.8" r="2.15" fill="#1a1a1a"/>
<circle cx="259.2" cy="429.2" r="2.15" fill="#1a1a1a"/>
<circle cx="223.5" cy="431.9" r="2.15" fill="#1a1a1a"/>
<circle cx="227.3" cy="434.2" r="2.15" fill="#1a1a1a"/>
<circle cx="257.8" cy="433.1" r="2.15" fill="#1a1a1a"/>
<circle cx="213.5" cy="440.4" r="2.15" fill="#1a1a1a"/>
<circle cx="218.8" cy="439.3" r="2.15" fill="#1a1a1a"/>
<circle cx="218.8" cy="443.9" r="2.15" fill="#1a1a1a"/>
<circle cx="235.8" cy="438.4" r="2.15" fill="#1a1a1a"/>
<circle cx="238.1" cy="437.6" r="2.15" fill="#1a1a1a"/>
<circle cx="259.4" cy="438.9" r="2.15" fill="#1a1a1a"/>
<circle cx="225.6" cy="443.6" r="2.15" fill="#1a1a1a"/>
<circle cx="229.1" cy="444.7" r="2.15" fill="#1a1a1a"/>
<circle cx="218.9" cy="441.4" r="2.15" fill="#1a1a1a"/>
<circle cx="232.7" cy="441.5" r="2.15" fill="#1a1a1a"/>
<circle cx="233.5" cy="444.5" r="2.15" fill="#1a1a1a"/>
<circle cx="266.3" cy="443" r="2.15" fill="#1a1a1a"/>
<circle cx="281.3" cy="439.2" r="2.15" fill="#1a1a1a"/>
<circle cx="285.9" cy="442.4" r="2.15" fill="#1a1a1a"/>
<circle cx="215" cy="445.8" r="2.15" fill="#1a1a1a"/>
<circle cx="213.6" cy="446.2" r="2.15" fill="#1a1a1a"/>
<line x1="213" y1="433.6" x2="286.2" y2="420.6" stroke="#1a1a1a" stroke-width="1.4"/>
<text transform="translate(275.60 365.90) scale(0.880 1)" font-size="8.6">r = 0.33</text>
<text transform="translate(275.60 374.70) scale(0.880 1)" font-size="8.6"><tspan font-style="italic">P</tspan> = .049</text>
<text transform="translate(254.30 475.50)" font-size="9.5" text-anchor="middle" textLength="74" lengthAdjust="spacingAndGlyphs">Arginase 1 (pg/ml)</text>
<text transform="translate(183.80 400.90) rotate(-90) scale(0.955 1)" font-size="9.5" text-anchor="middle">Imm Gran (10<tspan font-size="6.8" dy="-3.8">9</tspan><tspan dy="3.8"> cells/L)</tspan></text>
<rect x="0.5" y="0.5" width="519" height="484" fill="none" stroke="#111" stroke-width="1"/>
</svg>
</body></html>
